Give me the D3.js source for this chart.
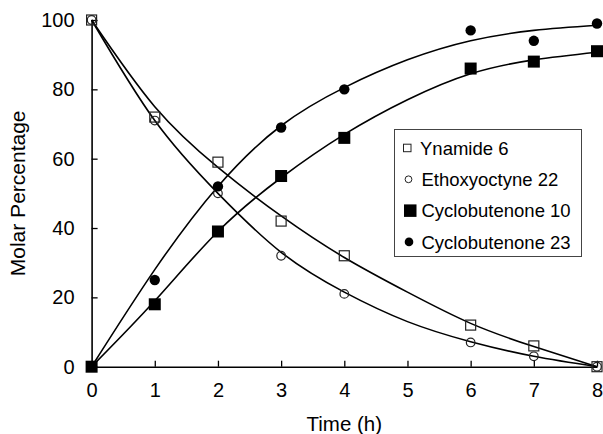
<!DOCTYPE html>
<html>
<head>
<meta charset="utf-8">
<script src="https://cdn.jsdelivr.net/npm/d3@7/dist/d3.min.js"></script>
<style>
  html, body { margin: 0; padding: 0; background: #fff; }
  svg { display: block; font-family: "Liberation Sans", Arial, Helvetica, sans-serif; }
</style>
</head>
<body>
<svg id="chart" width="603" height="434"></svg>
<script>
// ---- data ----
const times = [0, 1, 2, 3, 4, 6, 7, 8];
const ynamide6 = [100, 72, 59, 42, 32, 12, 6, 0];
const ethoxyoctyne22 = [100, 71, 50, 32, 21, 7, 3, 0];
const cyclobutenone10 = [0, 18, 39, 55, 66, 86, 88, 91];
const cyclobutenone23 = [0, 25, 52, 69, 80, 97, 94, 99];

// fitted curves, values
const fitTimes = [0, 1, 2, 3, 4, 5, 6, 7, 8];
const fitYnamide6 = [100, 75, 57.5, 43.5, 31.5, 21.5, 12.5, 5.8, 0];
const fitEthoxyoctyne22 = [100, 71, 50, 33, 21.5, 13, 7.2, 3, 0];
const fitCyclobutenone10 = [0, 19, 39, 54.5, 67, 77, 84.5, 88.5, 90.7];
const fitCyclobutenone23 = [0, 28, 52, 69.5, 80.5, 88.5, 94, 97, 98.5];

const xTicks = [0, 1, 2, 3, 4, 5, 6, 7, 8];
const yTicks = [0, 20, 40, 60, 80, 100];
const seriesNames = ["Ynamide 6", "Ethoxyoctyne 22", "Cyclobutenone 10", "Cyclobutenone 23"];

// ---- chart ----
const svg = d3.select("#chart");
const x = d3.scaleLinear().domain([0, 8]).range([91.6, 597]);
const y = d3.scaleLinear().domain([0, 100]).range([366.7, 20]);

const tickFont = "20px";

// axes
const xAxis = d3.axisBottom(x).tickValues(xTicks).tickSizeInner(-6).tickSizeOuter(0).tickPadding(16);
const gx = svg.append("g").attr("transform", `translate(0,${y(0)})`).call(xAxis);
const yAxis = d3.axisLeft(y).tickValues(yTicks).tickSizeInner(-6).tickSizeOuter(0).tickPadding(17);
const gy = svg.append("g").attr("transform", `translate(${x(0)},0)`).call(yAxis);
[gx, gy].forEach(g => {
  g.select(".domain").attr("stroke", "#000").attr("stroke-width", 1.6);
  g.selectAll(".tick line").attr("stroke", "#000").attr("stroke-width", 1.3);
  g.selectAll(".tick text").attr("fill", "#000").style("font-size", tickFont)
    .style("font-family", '"Liberation Sans", Arial, Helvetica, sans-serif');
});

// titles
svg.append("text").attr("x", x(4)).attr("y", 431).attr("text-anchor", "middle")
  .style("font-size", "20.5px").text("Time (h)");
svg.append("text").attr("transform", `translate(25,${y(50)}) rotate(-90)`)
  .attr("text-anchor", "middle").style("font-size", "21px").text("Molar Percentage");

// fitted curves
const line = d3.line().x(d => x(d[0])).y(d => y(d[1])).curve(d3.curveNatural);
[fitYnamide6, fitEthoxyoctyne22, fitCyclobutenone10, fitCyclobutenone23].forEach(vals => {
  svg.append("path")
    .datum(fitTimes.map((t, i) => [t, vals[i]]))
    .attr("d", line).attr("fill", "none").attr("stroke", "#000").attr("stroke-width", 1.6);
});

// markers
const pts = arr => times.map((t, i) => [t, arr[i]]);
const gm = svg.append("g");
gm.selectAll(".ys").data(pts(ynamide6)).join("rect")
  .attr("x", d => x(d[0]) - 5).attr("y", d => y(d[1]) - 5).attr("width", 10).attr("height", 10)
  .attr("fill", "none").attr("stroke", "#222").attr("stroke-width", 1.2);
gm.selectAll(".ec").data(pts(ethoxyoctyne22)).join("circle")
  .attr("cx", d => x(d[0])).attr("cy", d => y(d[1])).attr("r", 4.3)
  .attr("fill", "none").attr("stroke", "#222").attr("stroke-width", 1.2);
gm.selectAll(".c10").data(pts(cyclobutenone10)).join("rect")
  .attr("x", d => x(d[0]) - 6).attr("y", d => y(d[1]) - 6).attr("width", 12).attr("height", 12)
  .attr("fill", "#000");
gm.selectAll(".c23").data(pts(cyclobutenone23)).join("circle")
  .attr("cx", d => x(d[0])).attr("cy", d => y(d[1])).attr("r", 5.2)
  .attr("fill", "#000");

// legend
const lg = svg.append("g");
lg.append("rect").attr("x", 394.5).attr("y", 129.5).attr("width", 187).attr("height", 127)
  .attr("fill", "#fff").attr("stroke", "#444").attr("stroke-width", 1);
const rowY = i => 148 + i * 31.3;
lg.append("rect").attr("x", 403.5).attr("y", rowY(0) - 3.8).attr("width", 7.5).attr("height", 7.5)
  .attr("fill", "none").attr("stroke", "#222").attr("stroke-width", 1);
lg.append("circle").attr("cx", 408.5).attr("cy", rowY(1)).attr("r", 3.4)
  .attr("fill", "none").attr("stroke", "#222").attr("stroke-width", 1);
lg.append("rect").attr("x", 404).attr("y", rowY(2) - 6.2).attr("width", 12.5).attr("height", 12.5)
  .attr("fill", "#000");
lg.append("circle").attr("cx", 409).attr("cy", rowY(3)).attr("r", 4.3).attr("fill", "#000");
seriesNames.forEach((name, i) => {
  lg.append("text").attr("x", i === 0 ? 420 : 421.5).attr("y", rowY(i) + 6.6)
    .style("font-size", "18.5px").attr("fill", "#000").text(name);
});
</script>
</body>
</html>
